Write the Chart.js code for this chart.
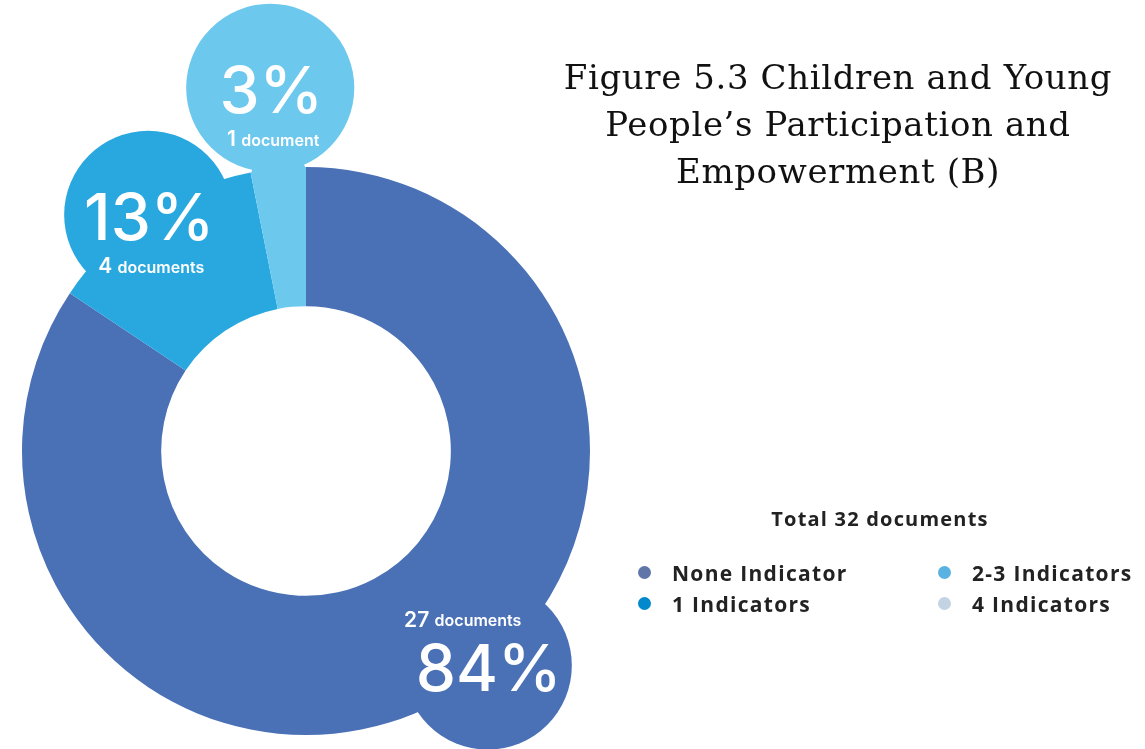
<!DOCTYPE html>
<html>
<head>
<meta charset="utf-8">
<script src="https://cdn.jsdelivr.net/npm/chart.js@4.4.0/dist/chart.umd.min.js"></script>
<style>
  html, body { margin: 0; padding: 0; background: #fff; }
  body { width: 1145px; height: 749px; position: relative; overflow: hidden; }
  #chartBox { position: absolute; left: 0; top: 0; width: 1145px; height: 749px; }
  #title {
    position: absolute; left: 538px; width: 600px; top: 54px;
    text-align: center; font-family: "DejaVu Serif", serif; font-size: 34px;
    line-height: 47px; color: #111; letter-spacing: 0.6px;
  }
  #total {
    position: absolute; left: 680px; width: 400px; top: 505px; text-align: center;
    font-family: "Open Sans", sans-serif; font-weight: 700; font-size: 20px; color: #222;
    letter-spacing: 1.2px;
  }
  #legend {
    position: absolute; left: 638px; top: 557px;
    display: grid; grid-template-rows: repeat(2, 31px); grid-auto-flow: column;
    grid-template-columns: 300px 220px;
    font-family: "Open Sans", sans-serif; font-weight: 700; font-size: 21px; color: #222;
    letter-spacing: 1.3px;
  }
  #legend div { display: flex; align-items: center; white-space: nowrap; }
  #legend span.dot { width: 13px; height: 13px; border-radius: 50%; margin-right: 21px; display: inline-block; }
</style>
</head>
<body>
<div id="chartBox"><canvas id="docChart"></canvas></div>
<div id="title">Figure 5.3 Children and Young<br>People’s Participation and<br>Empowerment (B)</div>
<div id="total"></div>
<div id="legend"></div>
<script>
// data
const categories = ['None Indicator', '1 Indicators', '2-3 Indicators', '4 Indicators'];
const documentCounts = [27, 4, 1, 0];
const sliceColors = ['#4A70B6', '#29A8E0', '#6DC8EE', '#C3D3E3'];
const legendColors = ['#6176A8', '#0288CC', '#5AB2E2', '#C3D3E3'];

const totalDocs = documentCounts.reduce((a, b) => a + b, 0);
document.getElementById('total').textContent = `Total ${totalDocs} documents`;

// legend, filled column by column like the original
let legendHtml = '';
categories.forEach((name, i) => {
    legendHtml += `<div><span class="dot" style="background:${legendColors[i]}"></span>${name}</div>`;
});
document.getElementById('legend').innerHTML = legendHtml;

// where each callout bubble sits: fraction along the slice, distance from centre (x outer radius)
const bubbleSpots = [
    { frac: 0.46, dist: 0.99, labelAbove: true },
    { frac: 0.50, dist: 1.00, labelAbove: false },
    { frac: 0.50, dist: 1.285, labelAbove: false }
];

const bubblePlugin = {
    id: 'bubbles',
    afterDatasetsDraw(chart) {
        const ctx = chart.ctx;
        const meta = chart.getDatasetMeta(0);
        meta.data.forEach((arc, i) => {
            const count = documentCounts[i];
            if (!count || !bubbleSpots[i]) return;
            const spot = bubbleSpots[i];
            const a = arc.startAngle + spot.frac * (arc.endAngle - arc.startAngle);
            const d = arc.outerRadius * spot.dist;
            const bx = arc.x + Math.cos(a) * d;
            const by = arc.y + Math.sin(a) * d;
            const br = arc.outerRadius * 0.296;

            ctx.save();
            ctx.fillStyle = sliceColors[i];
            // stem joining a pushed-out bubble to its slice
            if (spot.dist > 1.05) {
                ctx.beginPath();
                ctx.moveTo(arc.x + Math.cos(arc.startAngle) * (arc.outerRadius - 2), arc.y + Math.sin(arc.startAngle) * (arc.outerRadius - 2));
                ctx.lineTo(arc.x + Math.cos(arc.endAngle) * (arc.outerRadius - 2), arc.y + Math.sin(arc.endAngle) * (arc.outerRadius - 2));
                ctx.lineTo(bx, by);
                ctx.closePath();
                ctx.fill();
            }
            ctx.beginPath();
            ctx.arc(bx, by, br, 0, Math.PI * 2);
            ctx.fill();

            const pct = Math.round(count / totalDocs * 100) + '%';
            const docText = count === 1 ? 'document' : 'documents';
            ctx.fillStyle = '#fff';
            ctx.textAlign = 'center';
            ctx.textBaseline = 'middle';
            ctx.font = '500 64px Inter, "Open Sans", sans-serif';
            const pctY = by + 6;
            ctx.fillText(pct, bx + 1, pctY);

            const lblY = spot.labelAbove ? by - 45 : by + 52;
            const lblX = spot.labelAbove ? bx - 25 : bx + 3;
            ctx.font = '600 21px Inter, "Open Sans", sans-serif';
            const numW = ctx.measureText(String(count) + ' ').width;
            ctx.font = '600 16px Inter, "Open Sans", sans-serif';
            const wordW = ctx.measureText(docText).width;
            const startX = lblX - (numW + wordW) / 2;
            ctx.textAlign = 'left';
            ctx.font = '600 21px Inter, "Open Sans", sans-serif';
            ctx.fillText(String(count), startX, lblY);
            ctx.font = '600 16px Inter, "Open Sans", sans-serif';
            ctx.fillText(docText, startX + numW, lblY + 1);
            ctx.restore();
        });
    }
};

new Chart(document.getElementById('docChart'), {
    type: 'doughnut',
    data: {
        labels: categories,
        datasets: [{
            data: documentCounts,
            backgroundColor: sliceColors,
            borderWidth: 0,
            hoverOffset: 0
        }]
    },
    options: {
        responsive: true,
        maintainAspectRatio: false,
        animation: false,
        cutout: '51%',
        layout: { padding: { left: 22, top: 167, right: 555, bottom: 14 } },
        plugins: {
            legend: { display: false },
            tooltip: { enabled: false }
        }
    },
    plugins: [bubblePlugin]
});
</script>
</body>
</html>
